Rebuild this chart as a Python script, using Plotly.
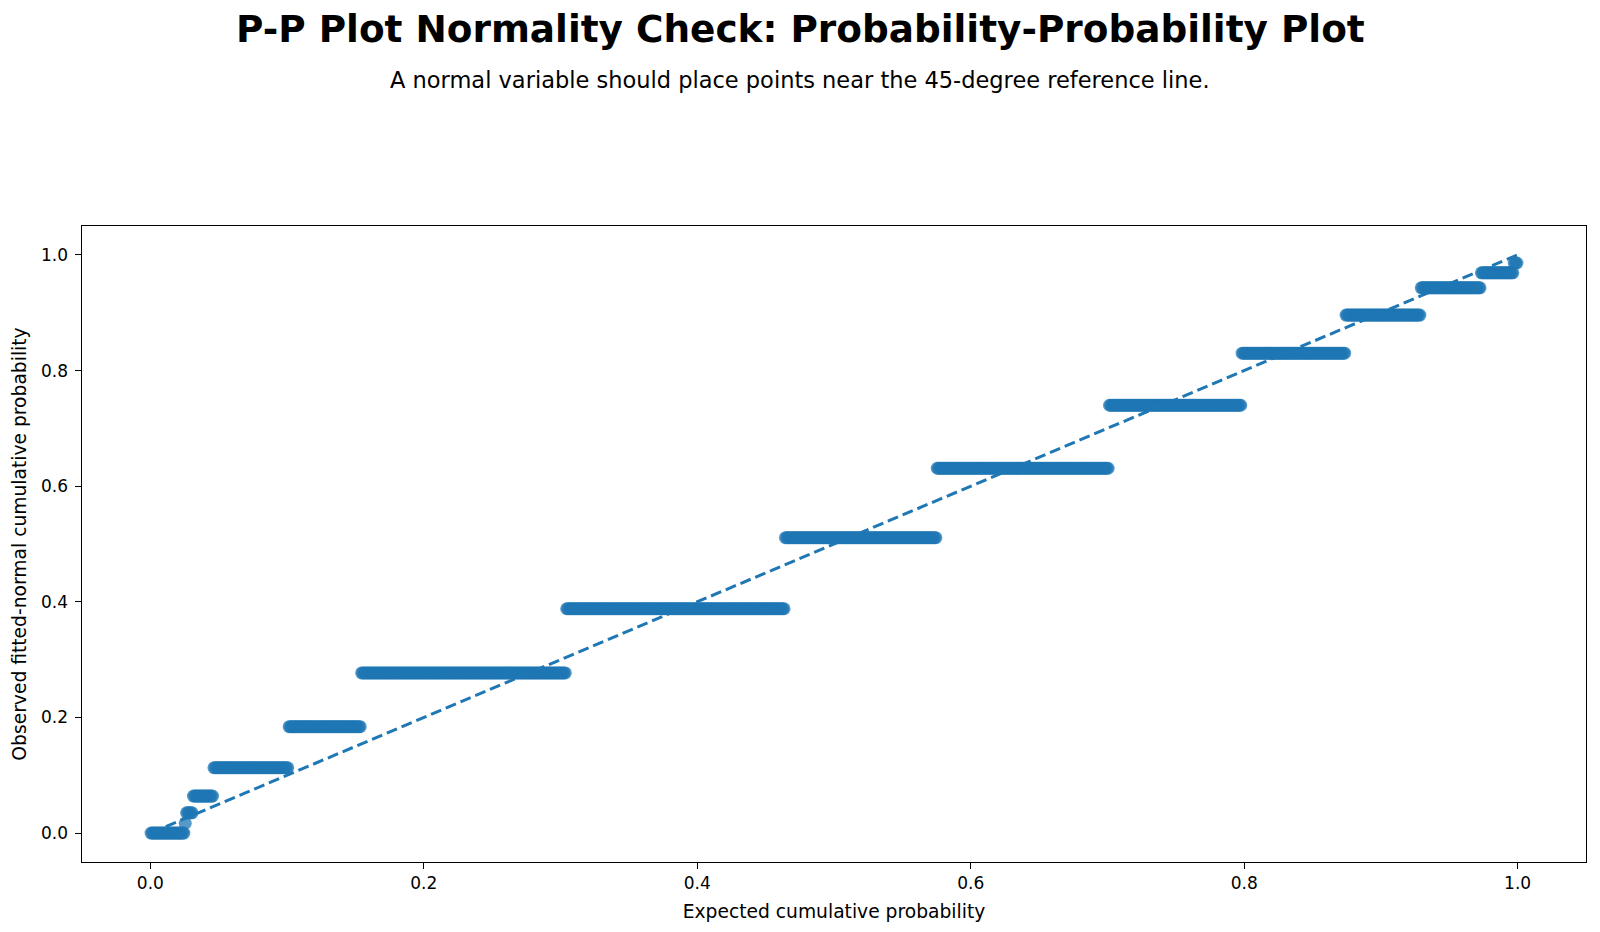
import numpy as np
import plotly.graph_objects as go

# Observed fitted-normal CDF levels (tied values) and number of observations at each level
observed_levels = [0.000, 0.017, 0.035, 0.064, 0.113, 0.184, 0.277, 0.388, 0.511,
                   0.631, 0.740, 0.830, 0.896, 0.943, 0.969, 0.986]
level_counts = [25, 1, 5, 15, 55, 53, 150, 160, 111, 126, 97, 76, 55, 44, 24, 3]

tick_vals = [0.0, 0.2, 0.4, 0.6, 0.8, 1.0]
tick_text = ["0.0", "0.2", "0.4", "0.6", "0.8", "1.0"]

# P-P plotting positions
observed = np.repeat(observed_levels, level_counts)
n = len(observed)
expected = (np.arange(n) + 0.5) / n

blue = "#1f77b4"
font = "DejaVu Sans"

fig = go.Figure()
fig.add_trace(go.Scatter(
    x=expected, y=observed, mode="markers",
    marker=dict(size=13, color=blue, opacity=0.75, line=dict(width=0)),
    showlegend=False, hoverinfo="skip"))
fig.add_trace(go.Scatter(
    x=[expected.min(), expected.max()], y=[expected.min(), expected.max()],
    mode="lines", line=dict(color=blue, width=3, dash="11px,5px"),
    showlegend=False, hoverinfo="skip"))

axis_common = dict(
    range=[-0.05, 1.05], tickvals=tick_vals, ticktext=tick_text,
    showgrid=False, zeroline=False, showline=True, linecolor="black",
    linewidth=1.2, mirror=True, ticks="outside", ticklen=5.5, tickwidth=1.2,
    tickcolor="black",
    tickfont=dict(family=font, size=17, color="black"))

fig.update_layout(
    width=1600, height=932,
    paper_bgcolor="white", plot_bgcolor="white",
    margin=dict(l=82, r=14, t=226, b=70),
    font=dict(family=font, color="black"),
    xaxis=dict(**axis_common,
               title=dict(text="Expected cumulative probability",
                          font=dict(family=font, size=18.7, color="black"), standoff=12)),
    yaxis=dict(**axis_common, ticklabelstandoff=4,
               title=dict(text="Observed fitted-normal cumulative probability",
                          font=dict(family=font, size=18.7, color="black"), standoff=9)),
    annotations=[
        dict(text="<b>P-P Plot Normality Check: Probability-Probability Plot</b>",
             x=0.5, y=29, xref="paper", yref="paper", showarrow=False,
             font=dict(family=font, size=37.4, color="black")),
        dict(text="A normal variable should place points near the 45-degree reference line.",
             x=0.5, y=80, xref="paper", yref="paper", showarrow=False,
             font=dict(family=font, size=22.5, color="black")),
    ],
)
# place titles in pixel terms: convert pixel y from top to paper coords
plot_top = 226
plot_h = 932 - 226 - 70
for ann in fig.layout.annotations:
    py = ann.y
    ann.y = 1 + (plot_top - py) / plot_h
    ann.x = (800 - 82) / (1600 - 82 - 14)
    ann.yanchor = "middle"
    ann.xanchor = "center"

fig.write_html("out.html")
